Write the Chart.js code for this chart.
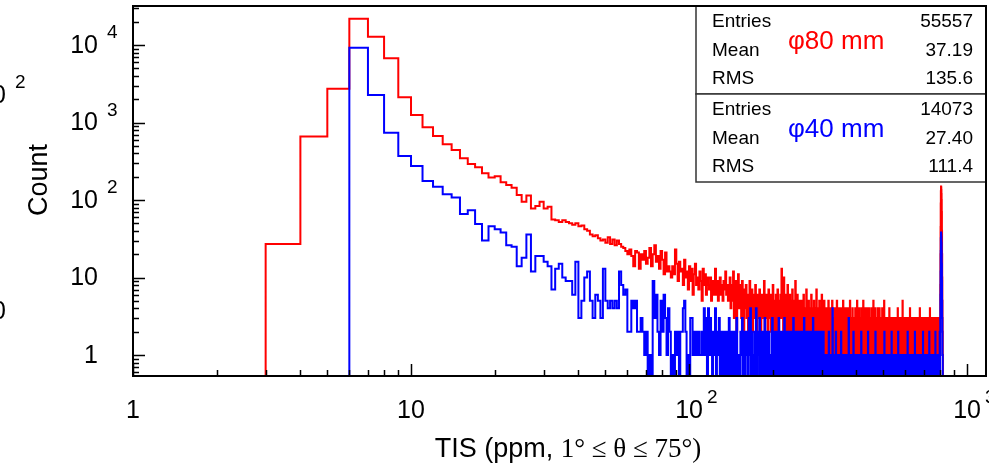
<!DOCTYPE html>
<html>
<head>
<meta charset="utf-8">
<script src="https://cdn.jsdelivr.net/npm/chart.js@4.4.0/dist/chart.umd.min.js"></script>
<style>
  html, body { margin: 0; padding: 0; background: #fff; }
  #c { display: block; }
</style>
</head>
<body>
<canvas id="c" width="989" height="471"></canvas>
<script>
// TIS histograms, 1 ppm wide bins, counts
const redFirstBin = 3;
const blueFirstBin = 6;

// phi 80 mm, bins 3..100
const redHead = [
  27, 660, 2730, 21800, 12800, 6730, 2115, 1250, 867, 670,
  523, 442, 345, 291, 264, 221, 196, 203, 169, 156,
  144, 116, 95, 114, 78, 84, 95, 78, 82, 56,
  55, 52, 55, 52, 50, 48, 50, 46, 47, 42,
  40, 36, 34, 35, 32, 30, 31, 28, 33, 27,
  31, 26, 30, 27, 25, 24, 22, 20, 23, 19,
  14, 22, 21, 13, 20, 17, 22, 15, 18, 24,
  14, 20, 26, 16, 19, 13, 22, 17, 11, 21,
  12, 14, 12, 10, 14, 11, 23, 15, 9, 16,
  12, 13, 8, 17, 10, 12, 7, 14
];
// bins 101..250
const redMid = [
  9, 13, 6, 11, 15, 8, 10, 7, 12, 9,
  5, 13, 8, 11, 6, 10, 8, 7, 10, 5,
  9, 6, 8, 13, 6, 9, 5, 7, 10, 6,
  8, 5, 9, 7, 12, 6, 8, 5, 7, 10,
  4, 8, 5, 12, 3, 7, 9, 2, 6, 11,
  4, 8, 5, 3, 9, 6, 2, 7, 4, 8,
  3, 6, 2, 5, 9, 3, 4, 7, 2, 6,
  4, 3, 8, 5, 2, 6, 4, 3, 7, 5,
  2, 4, 6, 3, 5, 9, 2, 4, 6, 3,
  5, 2, 7, 4, 3, 6, 2, 5, 4, 8,
  3, 2, 5, 4, 6, 2, 3, 7, 4, 2,
  5, 3, 6, 4, 13, 3, 5, 2, 10, 4,
  3, 6, 2, 5, 3, 8, 2, 4, 3, 6,
  2, 5, 3, 1, 7, 4, 2, 3, 5, 2,
  9, 3, 4, 2, 6, 3, 1, 4, 5, 2
];
// bins 251..510
const redTail1 = [
  3,2,5,1,4,3,2,6,3,1,4,2,3,7,2,4,1,3,5,2,
  3,4,1,2,6,3,2,4,1,3,5,2,3,1,4,2,7,3,2,4,
  1,3,2,5,3,1,4,2,3,6,2,1,3,4,2,5,3,1,2,4,
  2,3,1,4,2,3,5,1,2,3,2,4,1,3,2,2,5,3,1,2,
  3,1,2,4,2,3,1,2,3,5,2,1,3,2,4,1,2,3,2,1,
  4,2,3,1,2,2,3,5,1,3,2,4,2,1,3,2,3,1,4,2,
  1,3,2,2,4,1,3,2,5,2,1,3,2,3,1,2,4,2,3,1,
  2,3,1,2,3,4,2,1,3,2,2,5,1,3,2,1,3,4,2,2,
  3,1,2,3,2,4,1,2,3,1,2,3,5,2,1,3,2,2,4,1,
  2,3,2,1,3,4,2,3,1,2,2,3,1,4,2,3,2,1,3,2,
  1,2,4,3,2,1,3,2,2,5,1,3,2,3,1,2,4,2,1,3,
  3,2,1,2,3,2,4,1,3,2,2,1,3,4,2,3,1,2,2,3,
  2,1,3,2,4,2,1,3,2,3,1,2,5,2,3,1,2,3,2,1
];
// bins 511..799
const redTail2 = [
  2,1,3,0,1,2,0,1,2,1,3,1,1,2,4,1,2,1,2,3,
  1,2,1,2,3,2,1,2,1,1,2,3,1,2,1,2,2,1,3,1,
  2,1,1,2,1,3,1,2,1,2,1,2,4,1,2,1,3,1,2,1,
  1,3,1,2,1,2,1,2,3,1,2,1,2,1,2,5,1,2,1,2,
  2,1,3,1,1,2,1,2,1,2,1,3,1,1,2,1,2,3,2,1,
  1,2,1,2,1,3,2,1,2,1,2,1,4,1,2,1,1,2,1,3,
  2,1,2,1,1,2,3,2,1,2,1,2,0,2,1,3,1,1,2,1,
  1,2,1,3,1,2,1,1,2,1,3,1,2,1,1,2,1,3,2,1,
  2,1,1,2,1,4,1,2,1,1,2,3,1,2,1,2,1,2,1,3,
  1,2,1,1,3,1,2,1,2,1,2,1,3,1,1,2,1,2,1,2,
  3,2,1,2,1,2,1,1,3,1,2,1,2,1,3,1,2,1,1,2,
  2,1,2,1,4,2,1,1,2,1,3,1,1,2,1,2,1,2,3,2,
  1,2,1,2,1,3,1,2,1,1,2,1,2,3,2,1,1,2,1,1,
  2,1,3,1,2,1,1,2,1,2,1,3,1,2,1,1,3,1,2,1,
  1,2,1,3,1,2,1,2,1
];
// bins 800..818 (pile-up at the end of the range)
const redSpike = [3, 8, 20, 45, 90, 130, 150, 145, 135, 120, 100, 70, 40, 20, 10, 5, 3, 2, 1];

// phi 40 mm, bins 6..93
const blueHead = [
  9230, 2260, 740, 370, 275, 176, 148, 119, 108, 66,
  74, 49, 30, 46, 42, 38, 26, 25, 14, 18,
  36, 12, 19, 19, 16, 14, 7, 13, 15, 10,
  9, 9, 6, 16, 3, 5, 10, 12, 5, 3,
  6, 5, 3, 13, 5, 4, 5, 4, 5, 4,
  12, 8, 6, 7, 2, 2, 5, 4, 5, 2,
  2, 3, 2, 1, 2, 0, 1, 0, 9, 3,
  6, 2, 1, 5, 2, 6, 3, 1, 4, 2,
  0, 1, 0, 2, 1, 2, 0, 2
];
// bins 94..300
const blueMid = [
  2, 4, 5, 2, 0, 1, 0, 3, 3, 1,
  2, 1, 2, 1, 2, 1, 1, 2, 1, 4,
  1, 3, 0, 4, 1, 3, 2, 0, 2, 1,
  4, 0, 2, 1, 3, 0, 2, 2, 0, 1,
  2, 0, 1, 2, 0, 3, 1, 0, 2, 1,
  0, 2, 1, 0, 3, 1, 0,
  1,0,2,1,3,0,1,2,0,1,2,1,0,3,1,4,0,2,1,0,
  1,2,0,4,1,0,2,1,3,0,1,0,2,1,0,1,3,0,2,1,
  0,1,2,0,1,1,0,2,3,0,1,2,0,1,0,2,1,0,1,3,
  0,2,1,0,1,2,0,1,0,3,1,2,0,1,0,2,1,0,2,1,
  1,0,2,1,0,1,3,0,1,2,0,1,0,2,1,1,0,2,0,1,
  0,2,1,0,1,2,1,0,3,1,0,2,0,1,1,0,2,1,0,1,
  2,0,1,0,1,2,0,1,3,0,1,0,2,1,0,1,2,0,1,0,
  1,2,0,1,0,2,1,0,1,2
];
// bins 301..799
const blueTail = [
  1,0,1,2,0,1,0,1,1,0,1,1,0,1,0,1,0,2,1,0,
  1,0,1,0,1,1,0,4,1,0,1,0,0,1,0,1,2,0,1,0,
  0,1,1,0,1,0,1,0,1,0,1,2,0,1,0,1,0,1,1,0,
  1,0,1,0,1,0,1,1,0,1,0,1,0,0,3,1,0,1,0,1,
  0,1,1,0,1,0,1,0,1,2,0,1,0,1,0,1,1,0,1,0,
  1,0,1,0,1,0,1,0,1,0,1,1,0,1,0,2,0,1,0,1,
  0,1,0,1,1,0,1,0,1,0,1,0,1,1,0,1,0,1,0,2,
  1,0,1,0,1,0,1,0,1,1,0,1,0,1,0,1,0,1,0,1,
  0,0,1,0,1,0,1,2,0,1,0,1,0,1,0,1,1,0,1,0,
  1,0,1,0,1,0,1,0,1,0,1,1,0,1,0,1,0,1,0,1,
  0,1,0,2,1,0,1,0,1,0,1,0,1,0,1,0,1,1,0,1,
  0,1,0,1,0,1,1,0,1,0,1,0,1,0,2,1,0,1,0,1,
  0,1,0,1,0,1,0,1,0,1,1,0,1,0,1,0,1,1,0,1,
  0,1,0,1,2,0,1,0,1,0,1,0,1,1,0,1,0,1,0,1,
  1,0,1,0,1,0,1,0,1,0,1,0,1,1,0,1,0,1,0,1,
  0,1,0,1,0,1,0,1,0,1,2,0,1,0,1,0,1,0,1,0,
  1,0,1,0,1,1,0,1,0,1,0,1,0,1,1,0,1,0,1,0,
  1,0,1,0,1,0,1,0,2,1,0,1,0,1,0,1,1,0,1,0,
  1,0,1,1,0,1,0,1,0,1,0,1,0,1,0,1,0,1,1,0,
  1,0,1,0,1,0,1,1,0,1,0,1,0,2,0,1,0,1,0,1,
  1,0,1,0,1,0,1,1,0,1,0,1,0,1,0,1,0,1,0,1,
  0,1,1,0,1,0,1,0,1,0,2,0,1,0,1,0,1,1,0,1,
  0,1,0,1,0,1,0,1,0,1,0,1,1,0,1,0,1,0,1,0,
  1,0,1,0,1,0,1,0,2,0,1,0,1,0,1,1,0,1,0,1,
  0,1,0,1,0,1,0,1,0,1,1,0,1,0,1,0,2,1,0
];
// bins 800..818
const blueSpike = [1, 3, 6, 12, 22, 32, 38, 36, 33, 28, 22, 15, 9, 5, 3, 2, 1, 1, 0];

// axis labels: [base, exponent]
const xTicks = [1, 10, 100, 1000];
const xTickLabels = [['1', ''], ['10', ''], ['10', '2'], ['10', '3']];
const yTicks = [1, 10, 100, 1000, 10000];
const yTickLabels = [['1', ''], ['10', ''], ['10', '2'], ['10', '3'], ['10', '4']];

// stats boxes
const statNames = ['Entries', 'Mean', 'RMS'];
const redStats = ['55557', '37.19', '135.6'];
const blueStats = ['14073', '27.40', '111.4'];
const redName = '\u03C680 mm';
const blueName = '\u03C640 mm';

const X_MIN = 1, X_MAX = 1170;
const Y_MIN = 0.536, Y_MAX = 31900;

const SANS = '"Liberation Sans", Arial, sans-serif';
const SERIF = '"Liberation Serif", "Times New Roman", serif';

// ROOT style outline: empty bins sit on the bottom of the frame
function histPoints(first, counts) {
  const pts = [{ x: first, y: Y_MIN }];
  counts.forEach((c, i) => pts.push({ x: first + i, y: c > 0 ? c : Y_MIN }));
  pts.push({ x: first + counts.length, y: Y_MIN });
  return pts;
}

const redCounts = [].concat(redHead, redMid, redTail1, redTail2, redSpike);
const blueCounts = [].concat(blueHead, blueMid, blueTail, blueSpike);

function drawPower(ctx, base, exp, x, y, align, gap) {
  ctx.font = '25px ' + SANS;
  ctx.textBaseline = 'middle';
  ctx.textAlign = align;
  ctx.fillText(base, x, y);
  if (exp) {
    const right = align === 'center' ? x + ctx.measureText(base).width / 2 : x;
    ctx.font = '19px ' + SANS;
    ctx.textAlign = 'left';
    ctx.fillText(exp, right + gap, y - 13);
  }
}

function statsBox(ctx, top, values, name, color) {
  const left = 696, right = 986, h = 88;
  ctx.fillStyle = '#fff';
  ctx.fillRect(left, top, right - left, h);
  ctx.strokeStyle = '#333';
  ctx.lineWidth = 1.5;
  ctx.strokeRect(left, top, right - left, h);
  ctx.fillStyle = '#000';
  ctx.font = '19px ' + SANS;
  ctx.textBaseline = 'middle';
  statNames.forEach((s, i) => {
    const yy = top + 16 + i * 28.5;
    ctx.textAlign = 'left';
    ctx.fillText(s, 712, yy);
    ctx.textAlign = 'right';
    ctx.fillText(values[i], 973, yy);
  });
  ctx.fillStyle = color;
  ctx.font = '26px ' + SANS;
  ctx.textAlign = 'left';
  ctx.fillText(name, 788, top + 36);
}

const rootAxes = {
  id: 'rootAxes',
  afterDatasetsDraw(chart) {
    const { ctx, chartArea: a, scales: { x, y } } = chart;
    ctx.save();

    statsBox(ctx, 6, redStats, redName, '#ff0000');
    statsBox(ctx, 94, blueStats, blueName, '#0000ff');

    // frame
    ctx.strokeStyle = '#000';
    ctx.lineWidth = 2;
    ctx.strokeRect(a.left, a.top, a.right - a.left, a.bottom - a.top);

    // inward ticks, decades long, 2..9 short
    ctx.lineWidth = 1.5;
    ctx.beginPath();
    for (let d = 1; d <= 1000; d *= 10) {
      for (let k = 1; k < 10; k++) {
        const v = d * k;
        if (v < X_MIN || v > X_MAX) continue;
        const px = Math.round(x.getPixelForValue(v)) + 0.5;
        ctx.moveTo(px, a.bottom);
        ctx.lineTo(px, a.bottom - (k === 1 ? 12 : 6));
      }
    }
    for (let d = 0.1; d <= 10000; d *= 10) {
      for (let k = 1; k < 10; k++) {
        const v = d * k;
        if (v < Y_MIN || v > Y_MAX) continue;
        const py = Math.round(y.getPixelForValue(v)) + 0.5;
        ctx.moveTo(a.left, py);
        ctx.lineTo(a.left + (k === 1 ? 12 : 6), py);
      }
    }
    ctx.stroke();

    // tick labels
    ctx.fillStyle = '#000';
    xTicks.forEach((v, i) => {
      drawPower(ctx, xTickLabels[i][0], xTickLabels[i][1], x.getPixelForValue(v), a.bottom + 35, 'center', 4);
    });
    yTicks.forEach((v, i) => {
      drawPower(ctx, yTickLabels[i][0], yTickLabels[i][1], 98, y.getPixelForValue(v) + 1, 'right', 9);
    });

    // axis titles
    ctx.font = '27px ' + SANS;
    ctx.textAlign = 'center';
    ctx.textBaseline = 'middle';
    ctx.save();
    ctx.translate(40, 180);
    ctx.rotate(-Math.PI / 2);
    ctx.fillText('Count', 0, 0);
    ctx.restore();

    const t1 = 'TIS (ppm, ';
    const t2 = '1\u00B0 \u2264 \u03B8 \u2264 75\u00B0)';
    ctx.font = '27px ' + SANS;
    const w1 = ctx.measureText(t1).width;
    ctx.font = '27px ' + SERIF;
    const w2 = ctx.measureText(t2).width;
    const x0 = 568 - (w1 + w2) / 2;
    ctx.textAlign = 'left';
    ctx.font = '27px ' + SANS;
    ctx.fillText(t1, x0, 450);
    ctx.font = '27px ' + SERIF;
    ctx.fillText(t2, x0 + w1, 450);

    // labels of the neighbouring panel, cut by the left edge
    drawPower(ctx, '10', '2', 6, 96, 'right', 9);
    drawPower(ctx, '10', '', 6, 312, 'right', 9);

    ctx.restore();
  }
};

new Chart(document.getElementById('c'), {
  type: 'line',
  data: {
    datasets: [
      { label: blueName, data: histPoints(blueFirstBin, blueCounts), borderColor: '#0000ff', order: 0,
        stepped: true, borderWidth: 2, pointRadius: 0, tension: 0, fill: false },
      { label: redName, data: histPoints(redFirstBin, redCounts), borderColor: '#ff0000', order: 1,
        stepped: true, borderWidth: 2, pointRadius: 0, tension: 0, fill: false }
    ]
  },
  options: {
    responsive: false,
    animation: false,
    devicePixelRatio: 1,
    layout: { padding: { left: 133, top: 6, right: 3, bottom: 95 } },
    scales: {
      x: { type: 'logarithmic', min: X_MIN, max: X_MAX, display: false },
      y: { type: 'logarithmic', min: Y_MIN, max: Y_MAX, display: false }
    },
    plugins: { legend: { display: false }, tooltip: { enabled: false } }
  },
  plugins: [rootAxes]
});
</script>
</body>
</html>
